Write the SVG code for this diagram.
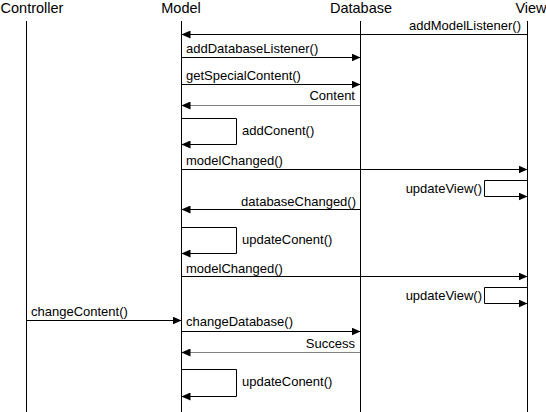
<svg xmlns="http://www.w3.org/2000/svg" width="546" height="412" viewBox="0 0 546 412">
<defs>
<style>
.hd{font-family:"Liberation Sans",Arial,sans-serif;font-size:14.5px;fill:#000;text-anchor:middle}
.lb{font-family:"Liberation Sans",Arial,sans-serif;font-size:13px;fill:#000}
.e{text-anchor:end}
.ll{stroke:#000;stroke-width:1;fill:none}
.m{stroke:#000;stroke-width:1;fill:none;marker-end:url(#ah)}
.r{stroke:#000;stroke-width:1;fill:none;stroke-dasharray:1 1;marker-end:url(#ah)}
</style>
<marker id="ah" viewBox="0 0 9 8" refX="9" refY="4" markerWidth="9" markerHeight="8" orient="auto" markerUnits="userSpaceOnUse"><path d="M0,0 L9,4 L0,8 z" fill="#000"/></marker>
</defs>
<rect width="546" height="412" fill="#fff"/>
<g id="controller"><text class="hd" x="32" y="13">Controller</text><line class="ll" x1="26.5" y1="21" x2="26.5" y2="412"/></g>
<g id="model"><text class="hd" x="181" y="13">Model</text><line class="ll" x1="181.5" y1="21" x2="181.5" y2="412"/></g>
<g id="database"><text class="hd" x="361" y="13">Database</text><line class="ll" x1="360.5" y1="21" x2="360.5" y2="412"/></g>
<g id="view"><text class="hd" x="531" y="13">View</text><line class="ll" x1="527.5" y1="21" x2="527.5" y2="412"/></g>
<g id="connectors">
<path class="m" d="M527.5,34.5 H181.5"/><text class="lb e" x="521" y="30">addModelListener()</text>
<path class="m" d="M181.5,57.5 H360.5"/><text class="lb" x="186" y="53">addDatabaseListener()</text>
<path class="m" d="M181.5,84.5 H360.5"/><text class="lb" x="186" y="80">getSpecialContent()</text>
<path class="r" d="M360.5,105.5 H181.5"/><text class="lb e" x="355" y="100">Content</text>
<path class="m" d="M181.5,118.5 H236.5 V144.5 H181.5"/><text class="lb" x="242" y="135">addConent()</text>
<path class="m" d="M181.5,169.5 H527.5"/><text class="lb" x="186" y="165">modelChanged()</text>
<path class="m" d="M527.5,180.5 H484.5 V196.5 H527.5"/><text class="lb e" x="482" y="193">updateView()</text>
<path class="m" d="M360.5,209.5 H181.5"/><text class="lb e" x="356" y="206">databaseChanged()</text>
<path class="m" d="M181.5,227.5 H236.5 V253.5 H181.5"/><text class="lb" x="242" y="244">updateConent()</text>
<path class="m" d="M181.5,276.5 H527.5"/><text class="lb" x="186" y="273">modelChanged()</text>
<path class="m" d="M527.5,287.5 H484.5 V303.5 H527.5"/><text class="lb e" x="482" y="300">updateView()</text>
<path class="m" d="M26.5,320.5 H181.5"/><text class="lb" x="31" y="316">changeContent()</text>
<path class="m" d="M181.5,331.5 H360.5"/><text class="lb" x="186" y="326">changeDatabase()</text>
<path class="r" d="M360.5,352.5 H181.5"/><text class="lb e" x="355" y="348">Success</text>
<path class="m" d="M181.5,369.5 H236.5 V396.5 H181.5"/><text class="lb" x="242" y="386">updateConent()</text>
</g>
</svg>
